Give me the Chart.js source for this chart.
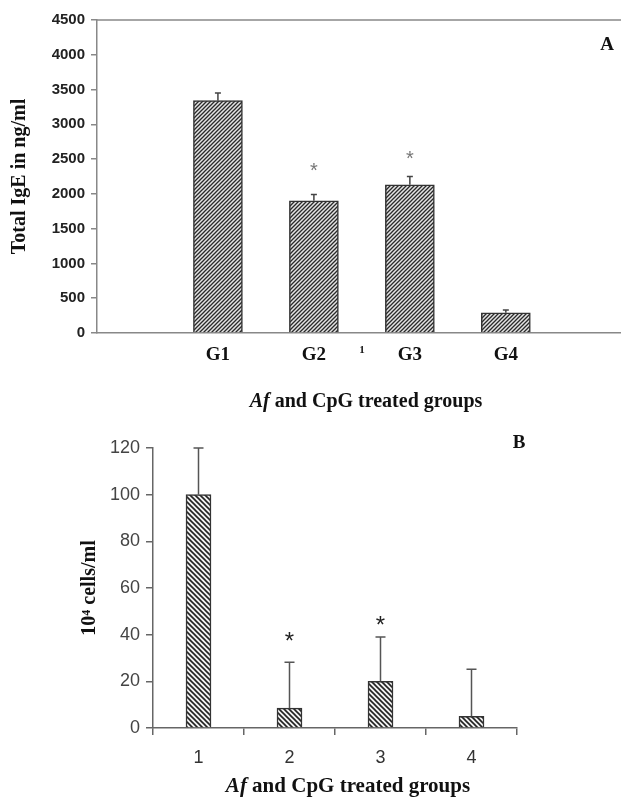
<!DOCTYPE html>
<html>
<head>
<meta charset="utf-8">
<script src="https://cdn.jsdelivr.net/npm/chart.js@4.4.1/dist/chart.umd.min.js"></script>
<style>
  body { margin: 0; background: #fff; }
  canvas { position: absolute; left: 0; }
  #chartA { top: 0; }
  #chartB { top: 410px; }
</style>
</head>
<body>
<canvas id="chartA" width="621" height="420"></canvas>
<canvas id="chartB" width="621" height="387"></canvas>
<script>
// panel A - total IgE
const groupsA = ["G1", "G2", "G3", "G4"];
const tickLabelsA = ["G1", "G2", "1", "G3", "G4"];
const tickPosA = [1, 2, 2.5, 3, 4];
const igeA = [3340, 1900, 2130, 290];
const igeErrA = [110, 90, 120, 40];
const starA = [null, 2390, 2570, null];

// panel B - cells
const groupsB = ["1", "2", "3", "4"];
const cellsB = [100, 8.5, 20, 5];
const cellsErrB = [20, 19.7, 19, 20.2];
const starB = [null, 39, 45.5, null];

const SERIF = "'Liberation Serif', 'Times New Roman', serif";
const SANS = "'Liberation Sans', Arial, sans-serif";

function hatch(bg, fg, size, lw, dir) {
  const c = document.createElement("canvas");
  c.width = c.height = size;
  const g = c.getContext("2d");
  g.fillStyle = bg;
  g.fillRect(0, 0, size, size);
  g.strokeStyle = fg;
  g.lineWidth = lw;
  g.beginPath();
  if (dir > 0) {
    g.moveTo(-1, size + 1); g.lineTo(size + 1, -1);
    g.moveTo(-1, 1); g.lineTo(1, -1);
    g.moveTo(size - 1, size + 1); g.lineTo(size + 1, size - 1);
  } else {
    g.moveTo(-1, -1); g.lineTo(size + 1, size + 1);
    g.moveTo(size - 1, -1); g.lineTo(size + 1, 1);
    g.moveTo(-1, size - 1); g.lineTo(1, size + 1);
  }
  g.stroke();
  return g.createPattern(c, "repeat");
}

// error bars, asterisks, panel letter, x title with italic "Af"
const extras = {
  id: "extras",
  afterDatasetsDraw(chart, args, o) {
    const ctx = chart.ctx;
    const y = chart.scales.y;
    const bars = chart.getDatasetMeta(0).data;
    ctx.save();
    ctx.strokeStyle = o.errColor;
    ctx.lineWidth = o.errWidth;
    bars.forEach((bar, i) => {
      const top = y.getPixelForValue(o.values[i] + o.errors[i]);
      ctx.beginPath();
      ctx.moveTo(bar.x, bar.y);
      ctx.lineTo(bar.x, top);
      ctx.moveTo(bar.x - o.cap, top);
      ctx.lineTo(bar.x + o.cap, top);
      ctx.stroke();
    });
    ctx.fillStyle = o.starColor;
    ctx.font = o.starFont;
    ctx.textAlign = "center";
    ctx.textBaseline = "middle";
    bars.forEach((bar, i) => {
      if (o.stars[i] == null) return;
      ctx.fillText("*", bar.x, y.getPixelForValue(o.stars[i]) + 5);
    });
    if (o.topLine) {
      const a = chart.chartArea;
      ctx.strokeStyle = "#888";
      ctx.lineWidth = 1.5;
      ctx.beginPath();
      ctx.moveTo(a.left, a.top);
      ctx.lineTo(a.right, a.top);
      ctx.stroke();
    }
    ctx.fillStyle = "#111";
    ctx.font = "bold 19px " + SERIF;
    ctx.fillText(o.letter, o.letterX, o.letterY);
    // x title
    const size = o.titleSize;
    const it = "italic bold " + size + "px " + SERIF;
    const bd = "bold " + size + "px " + SERIF;
    ctx.font = it;
    const w1 = ctx.measureText("Af").width;
    ctx.font = bd;
    const rest = " and CpG treated groups";
    const w2 = ctx.measureText(rest).width;
    const x0 = o.titleX - (w1 + w2) / 2;
    ctx.textAlign = "left";
    ctx.font = it;
    ctx.fillText("Af", x0, o.titleY);
    ctx.font = bd;
    ctx.fillText(rest, x0 + w1, o.titleY);
    ctx.restore();
  }
};

new Chart(document.getElementById("chartA"), {
  type: "bar",
  data: {
    datasets: [{
      data: igeA.map((v, i) => ({ x: i + 1, y: v })),
      backgroundColor: hatch("#e4e4e4", "#2a2a2a", 4, 1.3, 1),
      borderColor: "#333",
      borderWidth: 1.5,
      barThickness: 49
    }]
  },
  options: {
    responsive: false,
    animation: false,
    layout: { padding: { left: 8, top: 20, right: 0, bottom: 0 } },
    plugins: {
      legend: { display: false },
      tooltip: { enabled: false },
      extras: {
        values: igeA, errors: igeErrA, stars: starA,
        errColor: "#444", errWidth: 1.5, cap: 3,
        starColor: "#777", starFont: "20px " + SANS,
        topLine: true, letter: "A", letterX: 607, letterY: 45,
        titleX: 366, titleY: 402, titleSize: 20
      }
    },
    scales: {
      x: {
        type: "linear",
        offset: false,
        min: -0.26,
        max: 5.2,
        grid: { display: false },
        border: { color: "#888", width: 1.5 },
        afterBuildTicks: s => { s.ticks = tickPosA.map(v => ({ value: v })); },
        afterFit: s => { s.height = 87; },
        ticks: {
          autoSkip: false,
          maxRotation: 0,
          padding: 3,
          color: "#111",
          callback: (v, i) => tickLabelsA[i],
          font: c => c.index === 2
            ? { family: SERIF, size: 11, weight: "bold" }
            : { family: SERIF, size: 19, weight: "bold" }
        }
      },
      y: {
        min: 0,
        max: 4500,
        afterFit: s => { s.width = 89; },
        ticks: {
          stepSize: 500, padding: 6, color: "#222",
          font: { family: SANS, size: 15, weight: "bold" },
          callback: v => String(v)
        },
        grid: { drawOnChartArea: false, tickLength: 6, color: "#888", lineWidth: 1.5 },
        border: { color: "#888", width: 1.5 },
        title: { display: true, text: "Total IgE in ng/ml", color: "#111", padding: 0, font: { family: SERIF, size: 20, weight: "bold" } }
      }
    }
  },
  plugins: [extras]
});

new Chart(document.getElementById("chartB"), {
  type: "bar",
  data: {
    labels: groupsB,
    datasets: [{
      data: cellsB,
      backgroundColor: hatch("#f2f2f2", "#222", 5, 1.6, -1),
      borderColor: "#333",
      borderWidth: 1.5,
      barThickness: 25
    }]
  },
  options: {
    responsive: false,
    animation: false,
    layout: { padding: { left: 78, top: 38, right: 104, bottom: 0 } },
    plugins: {
      legend: { display: false },
      tooltip: { enabled: false },
      extras: {
        values: cellsB, errors: cellsErrB, stars: starB,
        errColor: "#555", errWidth: 1.5, cap: 5,
        starColor: "#222", starFont: "24px " + SANS,
        topLine: false, letter: "B", letterX: 519, letterY: 33,
        titleX: 348, titleY: 377, titleSize: 21
      }
    },
    scales: {
      x: {
        offset: true,
        afterFit: s => { s.height = 69; },
        grid: { drawOnChartArea: false, offset: true, tickLength: 7, color: "#666", lineWidth: 1.5 },
        border: { color: "#666", width: 1.5 },
        ticks: { padding: 12, color: "#333", font: { family: SANS, size: 18 } }
      },
      y: {
        min: 0,
        max: 120,
        afterFit: s => { s.width = 75; },
        ticks: { stepSize: 20, padding: 6, color: "#444", font: { family: SANS, size: 18 } },
        grid: { drawOnChartArea: false, tickLength: 7, color: "#666", lineWidth: 1.5 },
        border: { color: "#666", width: 1.5 },
        title: { display: true, text: "10⁴ cells/ml", color: "#111", padding: 0, font: { family: SERIF, size: 20, weight: "bold" } }
      }
    }
  },
  plugins: [extras]
});
</script>
</body>
</html>
